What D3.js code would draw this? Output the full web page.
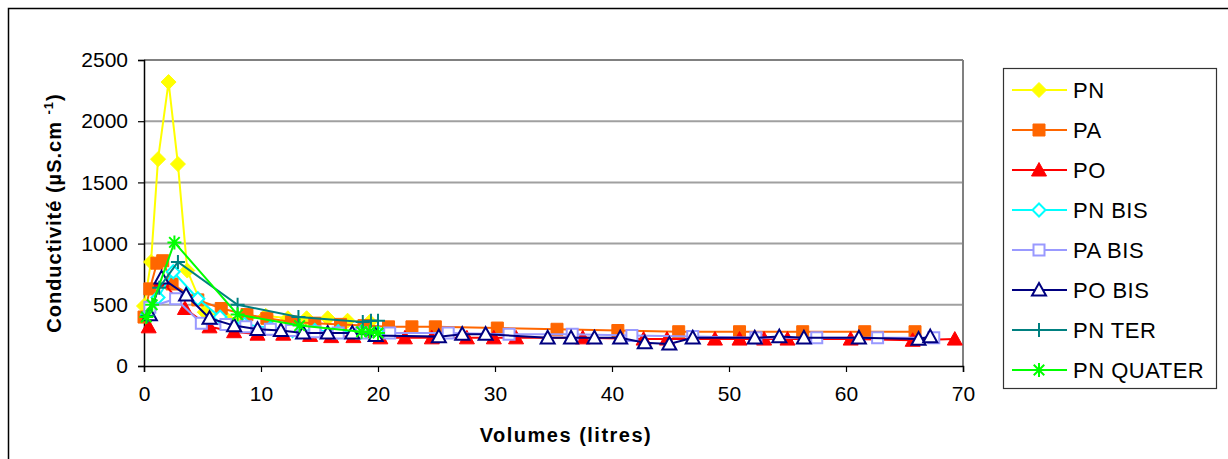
<!DOCTYPE html>
<html><head><meta charset="utf-8">
<script src="https://cdn.jsdelivr.net/npm/d3@7"></script>
<style>body{margin:0;background:#fff}svg{display:block}text{font-family:"Liberation Sans",Arial,sans-serif}</style>
</head><body><svg id="c" width="1228" height="459"></svg>
<script>
// ---- data: [volume (L), conductivity (µS/cm)] ----
const PN = [[0,490],[0.6,850],[1.2,1690],[2.1,2320],[2.9,1650],[3.7,780],[5.2,440],[6.9,400],[8.6,380],[10.4,410],[12.3,390],[13.9,390],[15.7,390],[17.4,370],[19.3,360]];
const PA = [[0,400],[0.5,630],[1.1,840],[1.6,860],[2.4,670],[4.6,540],[6.6,470],[8.8,420],[10.5,390],[12.6,360],[14.6,350],[16.8,340],[18.8,330],[20.9,320],[22.9,320],[24.9,320],[30.2,310],[35.3,300],[40.5,290],[45.7,280],[50.9,280],[56.3,280],[61.6,280],[65.9,280]];
const PO = [[0.4,320],[1.5,700],[3.5,470],[5.6,320],[7.7,280],[9.7,260],[11.9,260],[14.2,250],[16.0,240],[17.9,240],[20.2,230],[22.3,230],[24.6,230],[27.6,230],[29.9,230],[31.8,230],[37.5,230],[42.7,220],[44.7,220],[48.8,220],[50.9,220],[53.0,220],[55.0,220],[60.4,220],[65.7,210],[69.3,220]];
const PN_BIS = [[0.3,420],[1.2,560],[2.5,770],[4.6,550],[6.5,400],[8.6,340],[10.8,310],[12.7,290],[14.6,290],[16.6,280],[18.6,280],[20.0,270]];
const PA_BIS = [[0.5,480],[2.7,550],[4.9,350],[7.0,340],[8.7,320],[10.8,300],[12.6,290],[14.6,280],[16.6,270],[18.6,270],[21.0,270],[26.0,270],[31.2,260],[36.6,260],[41.7,250],[46.9,240],[52.3,230],[57.5,230],[62.7,230],[67.5,230]];
const PO_BIS = [[0.5,420],[1.5,720],[3.6,580],[5.6,390],[7.7,330],[9.7,300],[11.7,290],[13.6,270],[15.7,270],[17.8,270],[19.8,250],[25.2,240],[27.2,260],[29.2,260],[34.5,230],[36.5,230],[38.5,230],[40.7,230],[42.8,190],[44.9,180],[46.9,230],[52.2,230],[54.3,240],[56.4,230],[61.1,230],[66.2,220],[67.2,240]];
const PN_TER = [[0.3,410],[1.3,640],[2.9,850],[8.0,500],[13.2,400],[18.7,360],[19.4,370],[20.0,370]];
const PN_QUATER = [[0.2,400],[0.7,500],[2.6,1010],[8.0,420],[13.3,330],[18.6,280],[19.3,280],[20.0,270]];

const seriesNames = ["PN","PA","PO","PN BIS","PA BIS","PO BIS","PN TER","PN QUATER"];
const seriesData = [PN,PA,PO,PN_BIS,PA_BIS,PO_BIS,PN_TER,PN_QUATER];
const xTicks = [0,10,20,30,40,50,60,70];
const yTicks = [0,500,1000,1500,2000,2500];

const styles = [
  {c:"#FFFF00", m:"diamond", fill:true, s:7.5},
  {c:"#FF6600", m:"square", fill:true, s:6},
  {c:"#FF0000", m:"triangle", fill:true, s:7.5},
  {c:"#00FFFF", m:"diamond", fill:false, s:6.5},
  {c:"#9999FF", m:"square", fill:false, s:5.5},
  {c:"#000080", m:"triangle", fill:false, s:7},
  {c:"#008080", m:"plus", fill:false, s:7},
  {c:"#00FF00", m:"star", fill:false, s:7}
];

const svg = d3.select("#c");
const L=144, R=963, T=60, B=366;
const x = d3.scaleLinear().domain([0,70]).range([L,R]);
const y = d3.scaleLinear().domain([0,2500]).range([B,T]);

// outer frame
svg.append("rect").attr("x",8.5).attr("y",8.5).attr("width",1400).attr("height",600)
  .attr("fill","none").attr("stroke","#000").attr("stroke-width",1.5);

// gridlines
svg.append("g").selectAll("line").data(yTicks.filter(d=>d>0)).join("line")
  .attr("x1",L).attr("x2",R).attr("y1",d=>y(d)).attr("y2",d=>y(d))
  .attr("stroke","#a0a0a0").attr("stroke-width",2);
svg.append("line").attr("x1",R).attr("x2",R).attr("y1",T).attr("y2",B).attr("stroke","#808080").attr("stroke-width",2);
svg.append("line").attr("x1",L).attr("x2",R).attr("y1",T).attr("y2",T).attr("stroke","#808080").attr("stroke-width",2);

// axes
const xAxis = d3.axisBottom(x).tickValues(xTicks).tickFormat(d3.format("d")).tickSize(6).tickPadding(10);
const gx = svg.append("g").attr("transform",`translate(0,${B})`).call(xAxis);
const yAxis = d3.axisLeft(y).tickValues(yTicks).tickFormat(d3.format("d")).tickSize(6).tickPadding(10);
const gy = svg.append("g").attr("transform",`translate(${L},0)`).call(yAxis);
[gx,gy].forEach(g=>{
  g.select(".domain").attr("stroke","#000").attr("stroke-width",1.5);
  g.selectAll(".tick line").attr("stroke","#000").attr("stroke-width",1.2);
  g.selectAll(".tick text").attr("fill","#000").style("font-size","21px").style("font-family","'Liberation Sans',Arial,sans-serif");
});
gx.selectAll(".tick text").attr("dy","0.9em");

function markerPath(m,s){
  switch(m){
    case "diamond": return `M0,${-s}L${s},0L0,${s}L${-s},0Z`;
    case "square": return `M${-s},${-s}H${s}V${s}H${-s}Z`;
    case "triangle": return `M0,${-s}L${s},${s*0.8}L${-s},${s*0.8}Z`;
    case "plus": return `M${-s},0H${s}M0,${-s}V${s}`;
    case "star": return `M${-s},0H${s}M${-s*0.75},${-s*0.75}L${s*0.75},${s*0.75}M${-s*0.75},${s*0.75}L${s*0.75},${-s*0.75}M0,${-s}V${s}`;
  }
}
function drawMarker(g,st){
  return g.append("path").attr("d",markerPath(st.m,st.s))
    .attr("fill",st.fill?st.c:(st.m==="plus"||st.m==="star"?"none":"#fff"))
    .attr("stroke",st.c).attr("stroke-width",st.fill?1:2);
}

const line = d3.line().x(d=>x(d[0])).y(d=>y(d[1]));
const plot = svg.append("g");
seriesData.forEach((data,i)=>{
  const st = styles[i];
  const g = plot.append("g");
  g.append("path").datum(data).attr("d",line).attr("fill","none").attr("stroke",st.c).attr("stroke-width",2);
  data.forEach(d=>{
    drawMarker(g,st).attr("transform",`translate(${x(d[0])},${y(d[1])})`);
  });
});

// axis titles
svg.append("text").attr("x",566).attr("y",442).attr("text-anchor","middle")
  .style("font-size","20px").style("font-weight","bold").style("letter-spacing","1.5px").text("Volumes (litres)");
const yt = svg.append("text").attr("transform","translate(61,213) rotate(-90)").attr("text-anchor","middle")
  .style("font-size","20px").style("font-weight","bold").style("letter-spacing","1px");
yt.append("tspan").text("Conductivité (µS.cm ");
yt.append("tspan").attr("dy",-8).style("font-size","13px").text("-1");
yt.append("tspan").attr("dy",8).text(")");

// legend
const lg = svg.append("g");
lg.append("rect").attr("x",1003.5).attr("y",68.5).attr("width",213).attr("height",320)
  .attr("fill","#fff").attr("stroke","#333").attr("stroke-width",1.2);
seriesNames.forEach((n,i)=>{
  const st = styles[i];
  const yy = 90 + i*40;
  lg.append("line").attr("x1",1012).attr("x2",1067).attr("y1",yy).attr("y2",yy).attr("stroke",st.c).attr("stroke-width",2);
  drawMarker(lg,st).attr("transform",`translate(1039,${yy})`);
  lg.append("text").attr("x",1073).attr("y",yy).attr("dy","0.36em").style("font-size","22px").style("letter-spacing","0.5px").text(n);
});
</script></body></html>
